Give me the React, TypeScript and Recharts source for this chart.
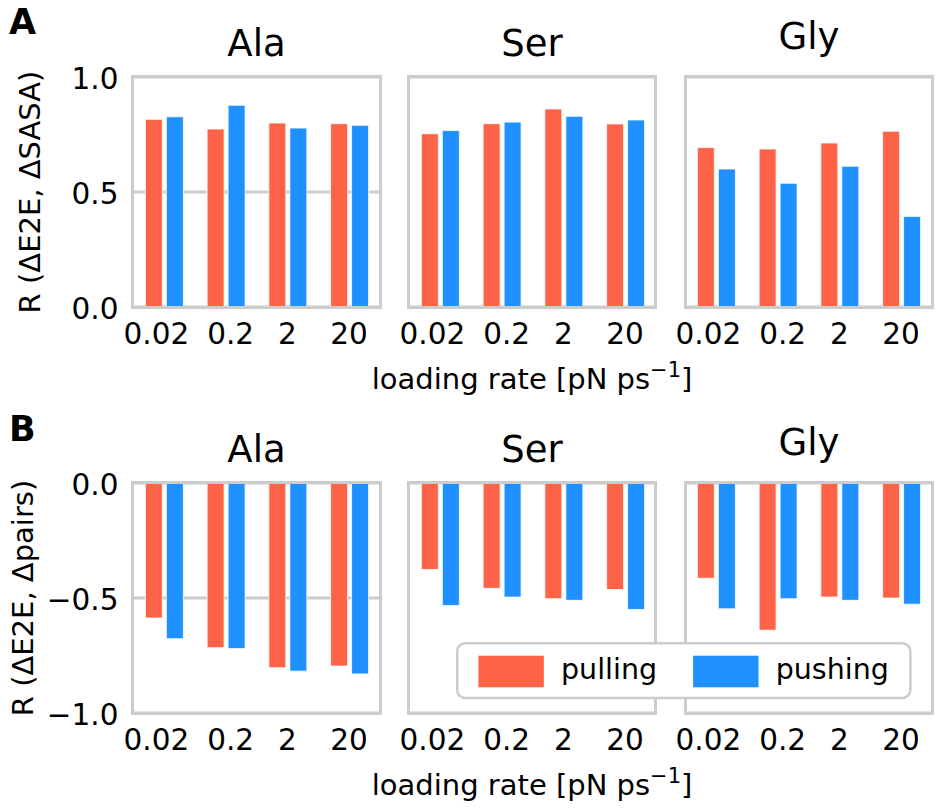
import React from 'react';
import { BarChart, Bar, XAxis, YAxis, CartesianGrid, Legend } from 'recharts';

const FONT = '"DejaVu Sans", "Liberation Sans", sans-serif';
const PULL_COLOR = '#FF6347';
const PUSH_COLOR = '#1E90FF';
const GRID = '#cccccc';

// categories / series
const loadingRates = ['0.02', '0.2', '2', '20'];
const residues = ['Ala', 'Ser', 'Gly'];
const seriesNames = ['pulling', 'pushing'];
const seriesColors = [PULL_COLOR, PUSH_COLOR];

// Panel A: R(ΔE2E, ΔSASA)
const alaSasaPulling = [0.816, 0.774, 0.8, 0.797];
const alaSasaPushing = [0.827, 0.877, 0.778, 0.79];
const serSasaPulling = [0.753, 0.797, 0.861, 0.796];
const serSasaPushing = [0.767, 0.804, 0.829, 0.813];
const glySasaPulling = [0.693, 0.687, 0.713, 0.764];
const glySasaPushing = [0.6, 0.538, 0.612, 0.394];

// Panel B: R(ΔE2E, Δpairs)
const alaPairsPulling = [-0.587, -0.716, -0.803, -0.796];
const alaPairsPushing = [-0.677, -0.72, -0.818, -0.83];
const serPairsPulling = [-0.376, -0.458, -0.503, -0.463];
const serPairsPushing = [-0.533, -0.496, -0.51, -0.55];
const glyPairsPulling = [-0.414, -0.64, -0.496, -0.5];
const glyPairsPushing = [-0.547, -0.503, -0.51, -0.527];

// axis ticks
const sasaTicks = [0, 0.5, 1.0];
const pairsTicks = [-1.0, -0.5, 0];

// layout (styling only)
const PLOT_W = 247;
const PLOT_H = 230;
const plotLefts = [133, 408.6, 685.4];
const TICK_FS = 29.5;
const LABEL_FS = 29;
const LEGEND_FS = 28.5;
const TITLE_FS = 37;
const tickLabelNudge: Record<string, number> = { '0.02': -7.5, '0.2': 5, '2': 0, '20': 0 };

const rowsConfig = [
  {
    letter: 'A',
    letterY: 34,
    top: 77,
    ylabel: 'R (ΔE2E, ΔSASA)',
    ylabelX: 40,
    domain: [0, 1],
    ticks: sasaTicks,
    pulls: [alaSasaPulling, serSasaPulling, glySasaPulling],
    pushes: [alaSasaPushing, serSasaPushing, glySasaPushing],
  },
  {
    letter: 'B',
    letterY: 441,
    top: 483,
    ylabel: 'R (ΔE2E, Δpairs)',
    ylabelX: 32.5,
    domain: [-1, 0],
    ticks: pairsTicks,
    pulls: [alaPairsPulling, serPairsPulling, glyPairsPulling],
    pushes: [alaPairsPushing, serPairsPushing, glyPairsPushing],
  },
];

const legendBox = { x: 456.4, y: 642, w: 455.6, h: 57.3 };

const makeRows = (pull: number[], push: number[]) =>
  loadingRates.map((rate, i) => ({ rate, pulling: pull[i], pushing: push[i] }));

const fmt = (v: number) => v.toFixed(1).replace('-', '\u2212');

const XTick = (props: any) => {
  const { x, y, payload } = props;
  const label = String(payload.value);
  return (
    <text x={x + (tickLabelNudge[label] || 0)} y={y + 36.5} textAnchor="middle" fontFamily={FONT} fontSize={TICK_FS} fill="#000">
      {label}
    </text>
  );
};

const YTick = (props: any) => {
  const { x, y, payload } = props;
  return (
    <text x={x - 14.5} y={y + 11.5} textAnchor="end" fontFamily={FONT} fontSize={TICK_FS} fill="#000">
      {fmt(Number(payload.value))}
    </text>
  );
};

const LegendContent = (props: any) => {
  const payload = (props && props.payload && props.payload.length ? props.payload : seriesNames.map((n, i) => ({ value: n, color: seriesColors[i] }))) as any[];
  const step = 214.7;
  return (
    <svg width={legendBox.w} height={legendBox.h} style={{ display: 'block', overflow: 'visible' }}>
      <rect x={1.25} y={1.25} width={legendBox.w - 2.5} height={legendBox.h - 2.5} rx={8} ry={8} fill="#ffffff" stroke={GRID} strokeWidth={2.5} />
      {payload.map((p: any, i: number) => {
        const idx = seriesNames.indexOf(String(p.value));
        const color = idx >= 0 ? seriesColors[idx] : p.color;
        return (
          <g key={String(p.value)}>
            <rect x={22.4 + i * step} y={13.7} width={65.4} height={31.6} fill={color} />
            <text x={105 + i * step} y={37.3} fontFamily={FONT} fontSize={LEGEND_FS} fill="#000">
              {p.value}
            </text>
          </g>
        );
      })}
    </svg>
  );
};

type PanelProps = {
  left: number;
  top: number;
  data: any[];
  domain: number[];
  ticks: number[];
  showY: boolean;
  withLegend: boolean;
};

function Panel({ left, top, data, domain, ticks, showY, withLegend }: PanelProps) {
  const padL = showY ? 115 : 20;
  const padT = 30;
  const padR = 10;
  const xH = 55;
  const originX = left - padL;
  const originY = top - padT;
  return (
    <>
      <div style={{ position: 'absolute', left: originX, top: originY }}>
        <BarChart
          width={padL + PLOT_W + padR}
          height={padT + PLOT_H + xH}
          data={data}
          margin={{ top: padT, right: padR, bottom: 0, left: 0 }}
          barCategoryGap="20%"
          barGap={4}
        >
          <CartesianGrid vertical={false} stroke={GRID} strokeWidth={3} />
          <XAxis
            dataKey="rate"
            type="category"
            height={xH}
            interval={0}
            tickLine={false}
            axisLine={false}
            tickSize={0}
            tickMargin={0}
            tick={XTick}
          />
          <YAxis
            type="number"
            domain={domain as any}
            ticks={ticks}
            width={padL}
            interval={0}
            allowDataOverflow
            tickLine={false}
            axisLine={false}
            tickSize={0}
            tickMargin={0}
            tick={showY ? YTick : false}
          />
          <Bar dataKey="pulling" name="pulling" fill={PULL_COLOR} stroke="#ffffff" strokeWidth={0.8} isAnimationActive={false} />
          <Bar dataKey="pushing" name="pushing" fill={PUSH_COLOR} stroke="#ffffff" strokeWidth={0.8} isAnimationActive={false} />
          {withLegend && (
            <Legend
              layout="vertical"
              align="center"
              verticalAlign="middle"
              content={LegendContent}
              wrapperStyle={{
                position: 'absolute',
                left: legendBox.x - originX,
                top: legendBox.y - originY,
                width: legendBox.w,
                height: legendBox.h,
                zIndex: 20,
              }}
            />
          )}
        </BarChart>
      </div>
      <div
        style={{
          position: 'absolute',
          left: left - 1.75,
          top: top - 1.75,
          width: PLOT_W + 3.5,
          height: PLOT_H + 3.5,
          border: `3.5px solid ${GRID}`,
          boxSizing: 'border-box',
          pointerEvents: 'none',
        }}
      />
    </>
  );
}

export default function App() {
  return (
    <div style={{ position: 'absolute', left: 0, top: 0, width: 942, height: 812, background: '#ffffff', overflow: 'hidden' }}>
      {rowsConfig.map((row, r) =>
        residues.map((res, c) => (
          <Panel
            key={`${r}-${res}`}
            left={plotLefts[c]}
            top={row.top}
            data={makeRows(row.pulls[c], row.pushes[c])}
            domain={row.domain}
            ticks={row.ticks}
            showY={c === 0}
            withLegend={r === 1 && c === 1}
          />
        ))
      )}
      <svg width={942} height={812} style={{ position: 'absolute', left: 0, top: 0, pointerEvents: 'none' }}>
        {rowsConfig.map((row) => {
          const bottom = row.top + PLOT_H;
          const midX = plotLefts[1] + PLOT_W / 2;
          return (
            <g key={row.letter} fontFamily={FONT} fill="#000">
              <text x={9} y={row.letterY} fontSize={35} fontWeight="bold">
                {row.letter}
              </text>
              {residues.map((res, c) => (
                <text
                  key={res}
                  x={plotLefts[c] + PLOT_W / 2}
                  y={row.top - 21 - (/[gjpqy]/.test(res) ? 7.3 : 0)}
                  textAnchor="middle"
                  fontSize={TITLE_FS}
                >
                  {res}
                </text>
              ))}
              <text
                transform={`translate(${row.ylabelX}, ${row.top + PLOT_H / 2}) rotate(-90)`}
                textAnchor="middle"
                fontSize={LABEL_FS}
              >
                {row.ylabel}
              </text>
              <text x={midX} y={bottom + 81.5} textAnchor="middle" fontSize={LABEL_FS}>
                <tspan>loading rate [pN ps</tspan>
                <tspan dy={-12} fontSize={21}>{'\u22121'}</tspan>
                <tspan dy={12}>]</tspan>
              </text>
            </g>
          );
        })}
      </svg>
    </div>
  );
}
